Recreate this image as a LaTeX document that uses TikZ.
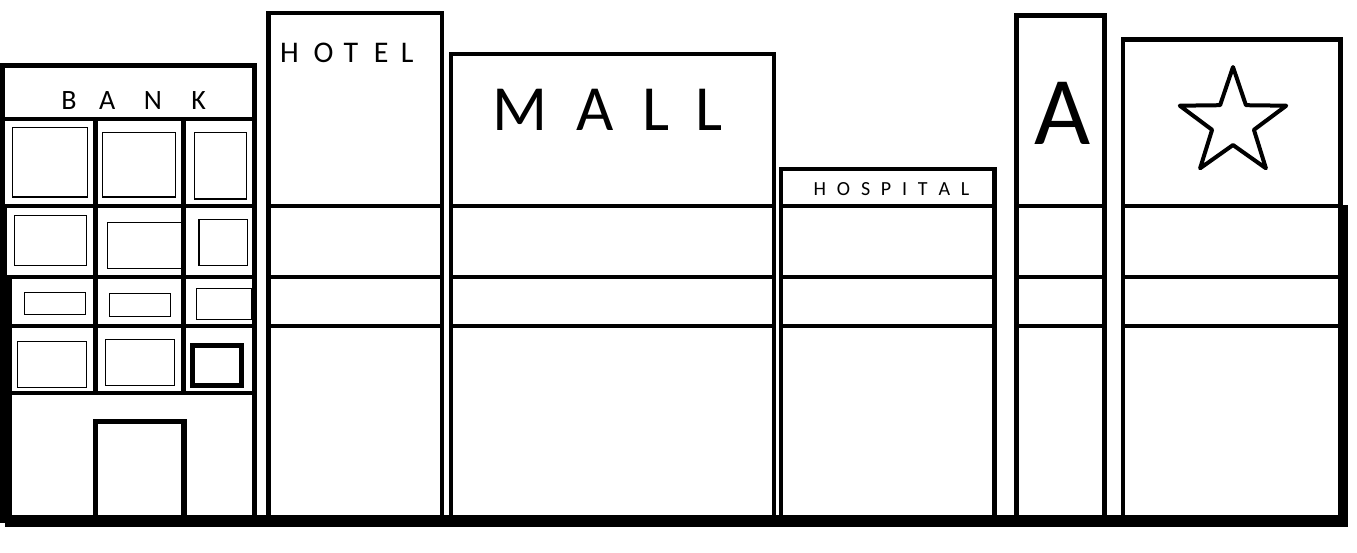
\documentclass[tikz,border=0pt]{standalone}
\usepackage{fontspec}
\setmainfont{Carlito}
\usepackage{tikz}

\tikzset{
  wall/.style={line width=4.6pt},
  pane/.style={line width=1.3pt},
  sign/.style={inner sep=0pt, anchor=base west}
}

\begin{document}
\begin{tikzpicture}[x=1pt,y=-1pt]
   \useasboundingbox (0,0) rectangle (1357,552);
   % Bank
   \draw[wall] (2.5,65.5) rectangle (254.5,521);
   \draw[wall] (2.5,119) -- (254.5,119);
   \foreach \y in {206,277,326,393} \draw[wall] (2.5,\y) -- (257,\y);
   \foreach \x in {95.3,183.7} \draw[wall] (\x,119) -- (\x,393);
   \fill (0,206) rectangle (7.3,277);
   \fill (0,277) rectangle (11.7,521);
   \node[sign, font=\fontsize{28}{28}\selectfont] (bank) at (61.2,109) {B\hspace{22.5pt}A\hspace{28.5pt}N\hspace{29.5pt}K};
   % Windows
   \draw[pane] (12.3,127.7) rectangle (87.3,197);
   \draw[pane] (102.3,132.3) rectangle (175.3,197);
   \draw[pane] (194.3,132.3) rectangle (246.3,199);
   \draw[pane] (14.3,215.7) rectangle (86.3,265.3);
   \draw[pane] (107.3,222.3) rectangle (181.7,268.3);
   \draw[pane] (199,219.3) rectangle (247.3,265.3);
   \draw[pane] (24.3,292.3) rectangle (85.3,314.3);
   \draw[pane] (109.3,293.3) rectangle (170.3,316.3);
   \draw[pane] (196.3,288.3) rectangle (251.3,319.3);
   \draw[pane] (17.3,341.3) rectangle (86.3,387.3);
   \draw[pane] (105.3,339.3) rectangle (174.3,385.3);
   \draw[line width=5pt] (192.5,345.2) rectangle (241.2,385.2);
   % Door
   \draw[line width=5.5pt] (95.5,521) |- (184.2,421.5) -- (184.2,521);
   % Towers
   \foreach \l/\t/\r in {268.5/12.8/442, 451/53.8/774, 781/169/994.5, 1016.5/15.5/1104.5, 1123/39.5/1340.5}
   {
     \draw[wall] (\l,\t) rectangle (\r,521);
     \foreach \y in {206,277,326} \draw[wall] (\l-2,\y) -- (\r+2,\y);
   }
   \node[sign, font=\fontsize{30}{30}\selectfont] (hotel) at (280,62) {H\hspace{14.8pt}O\hspace{10pt}T\hspace{15.8pt}E\hspace{12.4pt}L};
   \node[sign, font=\fontsize{64.4}{64}\selectfont] (mall) at (491.9,130.7) {M\hspace{29.4pt}A\hspace{28.2pt}L\hspace{26.2pt}L};
   \node[sign, font=\fontsize{20}{20}\selectfont] (hospital) at (813.5,195) {H\hspace{10.8pt}O\hspace{10.8pt}S\hspace{10.8pt}P\hspace{10.8pt}I\hspace{10.8pt}T\hspace{10.8pt}A\hspace{10.8pt}L};
   \node[sign, font=\fontsize{97}{97}\selectfont] (letterA) at (1034.5,144) {A};
   % Star
   \draw[wall, line width=4pt, line join=round] (1233,123) +(-90:56)
      \foreach \a/\r in {-54/22,-18/56,18/22,54/56,90/22,126/56,162/22,198/56,234/22} { -- +(\a:\r) } -- cycle;
   % Ground
   \fill (1338,205) rectangle (1348,527);
   \fill (5,515) rectangle (1348,527);
\end{tikzpicture}
\end{document}
